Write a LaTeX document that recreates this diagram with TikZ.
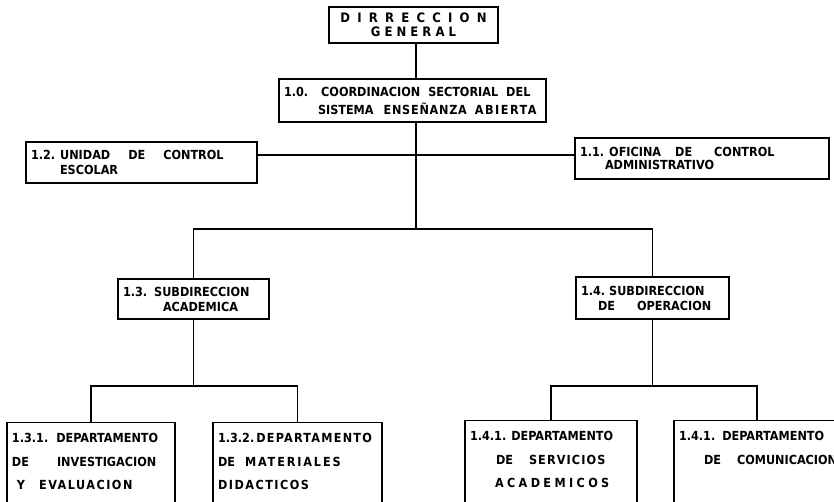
\documentclass[tikz,border=0pt]{standalone}
\usepackage{fontspec}
\setmainfont{DejaVu Sans Condensed}
\newcommand{\hueco}[1]{\hspace*{#1pt}}
\newcommand{\ancho}[2]{{\addfontfeature{LetterSpace=#1}#2}}
\tikzset{
  caja/.style={draw, line width=1.3pt, inner xsep=5pt, inner ysep=3pt, align=left,
    font=\bfseries\fontsize{12.5}{15}\selectfont},
  depto/.style={caja, anchor=north, inner ysep=11pt,
    font=\bfseries\fontsize{12.5}{23.5}\selectfont},
  rama/.style={line width=1.2pt},
}
\begin{document}
\begin{tikzpicture}[x=1pt,y=-1pt]
\clip (0,0) rectangle (834,501);
% cabecera
\node[caja, align=center, minimum width=169pt, minimum height=36pt,
  font=\bfseries\fontsize{13}{14}\selectfont] (dg) at (413.5,25)
  {\spaceskip=7.2pt\relax D I R R E C C I O N\\G E N E R A L};
\node[caja, text width=257pt, minimum height=43pt,
  font=\bfseries\fontsize{12.5}{18}\selectfont] (coord) at (412.5,100.5)
  {1.0.\hueco{13}COORDINACION\hueco{8}SECTORIAL\hueco{8}DEL\\
   \hueco{34}SISTEMA\hueco{10}\ancho{6}{ENSEÑANZA}\hueco{8}\ancho{12}{ABIERTA}};
% staff
\node[caja, text width=221pt, minimum height=41pt] (uce) at (141.5,162.5)
  {1.2.\hueco{5}UNIDAD\hueco{18}DE\hueco{18}CONTROL\\\hueco{29}ESCOLAR};
\node[caja, text width=244pt, minimum height=41pt,
  font=\bfseries\fontsize{12.5}{12.5}\selectfont] (oca) at (702,158.5)
  {1.1.\hueco{5}OFICINA\hueco{14}DE\hueco{22}CONTROL\\\hueco{25}ADMINISTRATIVO};
% subdirecciones
\node[caja, text width=141pt, minimum height=40pt] (sacad) at (193.5,299)
  {1.3.\hueco{7}SUBDIRECCION\\\hueco{40}ACADEMICA};
\node[caja, text width=143pt, minimum height=42pt] (soper) at (652.5,298)
  {1.4.\hueco{4}SUBDIRECCION\\\hueco{17}DE\hueco{22}OPERACION};
% departamentos
\node[depto, text width=158pt] (dinv) at (91,422)
  {\mbox{1.3.1.\hueco{8}DEPARTAMENTO}\\DE\hueco{28}INVESTIGACION\\
   \hueco{5}Y\hueco{14}\ancho{12}{EVALUACION}\\\mbox{}};
\node[depto, text width=159pt] (dmat) at (297.5,422)
  {\mbox{1.3.2.\hueco{2}\ancho{10}{DEPARTAMENTO}}\\DE\hueco{10}\ancho{15}{MATERIALES}\\
   \ancho{12}{DIDACTICOS}\\\mbox{}};
\node[depto, text width=162pt] (dserv) at (551,420)
  {\mbox{1.4.1.\hueco{5}DEPARTAMENTO}\\\hueco{26}DE\hueco{16}\ancho{9}{SERVICIOS}\\
   \hueco{25}\ancho{27}{ACADEMICOS}\\\mbox{}};
\node[depto, text width=156pt] (dcom) at (757,420)
  {\mbox{1.4.1.\hueco{7}DEPARTAMENTO}\\\hueco{25}DE\hueco{16}\mbox{COMUNICACION}\\\mbox{}\\\mbox{}};
% conectores
\coordinate (j0) at (416,155);
\coordinate (j1) at (416,229);
\coordinate (bar2) at (0,386);
\draw[rama] (j1 |- dg.south) -- (j1 |- coord.north);
\draw[rama] (j1 |- coord.south) -- (j1);
\draw[rama] (uce.east |- j0) -- (oca.west |- j0);
\draw[rama] (sacad.north) |- (j1) -| (soper.north);
\draw[rama] (sacad.south) -- (sacad.south |- bar2);
\draw[rama] (dinv.north) |- (sacad.south |- bar2) -| (dmat.north);
\draw[rama] (soper.south) -- (soper.south |- bar2);
\draw[rama] (dserv.north) |- (soper.south |- bar2) -| (dcom.north);
\end{tikzpicture}
\end{document}
